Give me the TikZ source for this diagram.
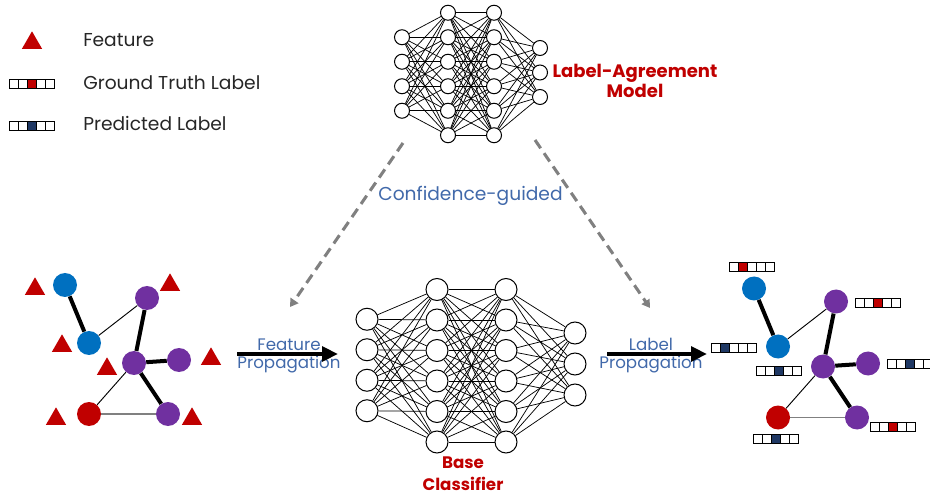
\documentclass[tikz,border=0pt]{standalone}
\usepackage{fontspec}
\setmainfont{Poppins}
\usetikzlibrary{arrows.meta,calc,shapes.geometric}
\definecolor{myred}{RGB}{192,0,0}
\definecolor{myblue}{RGB}{0,112,192}
\definecolor{mypurple}{RGB}{112,48,160}
\definecolor{navy}{RGB}{31,56,100}
\definecolor{txtblue}{RGB}{65,105,170}
\definecolor{dgray}{RGB}{128,128,128}
\newcommand{\labelbar}[4]{%
  \coordinate (#1) at (#2);
  \foreach \k in {1,...,5}{%
    \ifnum\k=#3\relax\def\cellfill{#4}\else\def\cellfill{white}\fi
    \draw[cellbox, fill=\cellfill] ($(#1)+({(\k-3.5)*9},-4.5)$) rectangle ++(9,9);
  }%
}
\begin{document}
\begin{tikzpicture}[x=0.75pt,y=-0.75pt,
  neuronS/.style={circle, draw=black, fill=white, line width=0.75pt, minimum size=11.25pt, inner sep=0},
  neuronL/.style={circle, draw=black, fill=white, line width=0.75pt, minimum size=16.5pt, inner sep=0},
  wire/.style={line width=0.55pt},
  gnode/.style={circle, minimum size=18pt, inner sep=0},
  featri/.style={regular polygon, regular polygon sides=3, fill=myred, minimum size=17.5pt, inner sep=0},
  thickedge/.style={line width=3pt},
  thinedge/.style={line width=0.7pt},
  grayedge/.style={line width=1.4pt, draw=dgray},
  bigarrow/.style={line width=3pt, -{Triangle[length=12pt,width=11pt]}},
  dasharrow/.style={draw=dgray, line width=2.3pt, dash pattern=on 7.5pt off 4.5pt, -{Triangle[length=6pt,width=7pt]}},
  proptext/.style={text=txtblue, font=\fontsize{12.5}{13.5}\selectfont, align=center, inner sep=0},
  legendtext/.style={anchor=base west, font=\fontsize{14}{16}\selectfont, text=black!85, inner sep=0},
  redtitle/.style={text=myred, font=\bfseries\fontsize{13.5}{15}\selectfont, align=center, inner sep=0},
  cellbox/.style={draw=black, line width=0.6pt}
]
\useasboundingbox (0,0) rectangle (930,498);

% ---------- legend ----------
\node[featri] (legtri) at (32,43) {};
\node[legendtext] (legfeat) at (83,47) {Feature};
\labelbar{leggt}{32,84}{3}{myred}
\node[legendtext] (leggttxt) at (83,89.3) {Ground Truth Label};
\labelbar{legpr}{32,126}{3}{navy}
\node[legendtext] (legprtxt) at (83,131) {Predicted Label};

% ---------- top network (label agreement) ----------
\foreach \i in {1,...,4} \node[neuronS] (a1-\i) at (402,{37.25+(\i-1)*24.5}) {};
\foreach \i in {1,...,6} \node[neuronS] (a2-\i) at (448,{12.75+(\i-1)*24.5}) {};
\foreach \i in {1,...,6} \node[neuronS] (a3-\i) at (494,{12.75+(\i-1)*24.5}) {};
\foreach \i in {1,...,3} \node[neuronS] (a4-\i) at (540,{48+(\i-1)*24.5}) {};
\foreach \i in {1,...,4} \foreach \j in {1,...,6} \draw[wire] (a1-\i) -- (a2-\j);
\foreach \i in {1,...,6} \foreach \j in {1,...,6} \draw[wire] (a2-\i) -- (a3-\j);
\foreach \i in {1,...,6} \foreach \j in {1,...,3} \draw[wire] (a3-\i) -- (a4-\j);
\node[redtitle] (lam) at (635,80.5) {Label-Agreement\\Model};

% ---------- middle network (base classifier) ----------
\foreach \i in {1,...,4} \node[neuronL] (b1-\i) at (367,{319.25+(\i-1)*30.5}) {};
\foreach \i in {1,...,6} \node[neuronL] (b2-\i) at (437,{289.5+(\i-1)*30.5}) {};
\foreach \i in {1,...,6} \node[neuronL] (b3-\i) at (506,{289.5+(\i-1)*30.5}) {};
\foreach \i in {1,...,3} \node[neuronL] (b4-\i) at (575,{333+(\i-1)*31}) {};
\foreach \i in {1,...,4} \foreach \j in {1,...,6} \draw[wire] (b1-\i) -- (b2-\j);
\foreach \i in {1,...,6} \foreach \j in {1,...,6} \draw[wire] (b2-\i) -- (b3-\j);
\foreach \i in {1,...,6} \foreach \j in {1,...,3} \draw[wire] (b3-\i) -- (b4-\j);
\node[redtitle, font=\bfseries\fontsize{12.5}{16.7}\selectfont] (bc) at (463,474) {Base\\Classifier};

% ---------- left graph ----------
\node[gnode, fill=myblue] (lb1) at (65,285) {};
\node[gnode, fill=myblue] (lb2) at (89,343) {};
\node[gnode, fill=mypurple] (lp1) at (147,298) {};
\node[gnode, fill=mypurple] (lp2) at (134,363) {};
\node[gnode, fill=mypurple] (lp3) at (179,360) {};
\node[gnode, fill=myred] (lr) at (89,414) {};
\node[gnode, fill=mypurple] (lp4) at (168,414) {};
\draw[thickedge] (lb1) -- (lb2);
\draw[thinedge] (lb2) -- (lp1);
\draw[thickedge] (lp1) -- (lp2);
\draw[thickedge] (lp2) -- (lp3);
\draw[thickedge] (lp2) -- (lp4);
\draw[thinedge] (lp2) -- (lr);
\draw[grayedge] (lr) -- (lp4);
\node[featri] (t1) at (35,289) {};
\node[featri] (t2) at (170,285) {};
\node[featri] (t3) at (62,346) {};
\node[featri] (t4) at (107,369) {};
\node[featri] (t5) at (211,359) {};
\node[featri] (t6) at (56,419) {};
\node[featri] (t7) at (192,419) {};

% ---------- right graph ----------
\node[gnode, fill=myblue] (rb1) at (754,288.5) {};
\node[gnode, fill=myblue] (rb2) at (778,346.5) {};
\node[gnode, fill=mypurple] (rp1) at (836,301.5) {};
\node[gnode, fill=mypurple] (rp2) at (823,366.5) {};
\node[gnode, fill=mypurple] (rp3) at (868,363.5) {};
\node[gnode, fill=myred] (rr) at (778,417.5) {};
\node[gnode, fill=mypurple] (rp4) at (857,417.5) {};
\draw[thickedge] (rb1) -- (rb2);
\draw[thinedge] (rb2) -- (rp1);
\draw[thickedge] (rp1) -- (rp2);
\draw[thickedge] (rp2) -- (rp3);
\draw[thickedge] (rp2) -- (rp4);
\draw[thinedge] (rp2) -- (rr);
\draw[grayedge] (rr) -- (rp4);
\labelbar{lab1}{752,267}{2}{myred}
\labelbar{lab2}{878,303}{3}{myred}
\labelbar{lab3}{734,348}{2}{navy}
\labelbar{lab4}{779,371}{3}{navy}
\labelbar{lab5}{910,364}{3}{navy}
\labelbar{lab6}{893,427}{3}{myred}
\labelbar{lab7}{776,439}{3}{navy}

% ---------- propagation arrows ----------
\node[proptext] (fp) at (289,356) {Feature\\Propagation};
\coordinate (fa1) at (237,354);
\coordinate (fa2) at (338,354);
\draw[bigarrow] (fa1) -- (fa2);
\node[proptext] (lp) at (651,356) {Label\\Propagation};
\coordinate (la1) at (607,354);
\coordinate (la2) at (707,354);
\draw[bigarrow] (la1) -- (la2);

% ---------- confidence-guided ----------
\coordinate (dl1) at (403,143);
\coordinate (dl2) at (290,307);
\coordinate (dr1) at (535,140);
\coordinate (dr2) at (650,308);
\draw[dasharrow] (dl1) -- (dl2);
\draw[dasharrow] (dr1) -- (dr2);
\node[text=txtblue, font=\fontsize{14}{16}\selectfont, anchor=base, inner sep=0] (cg) at (470.5,200.7) {Confidence-guided};
\end{tikzpicture}
\end{document}
